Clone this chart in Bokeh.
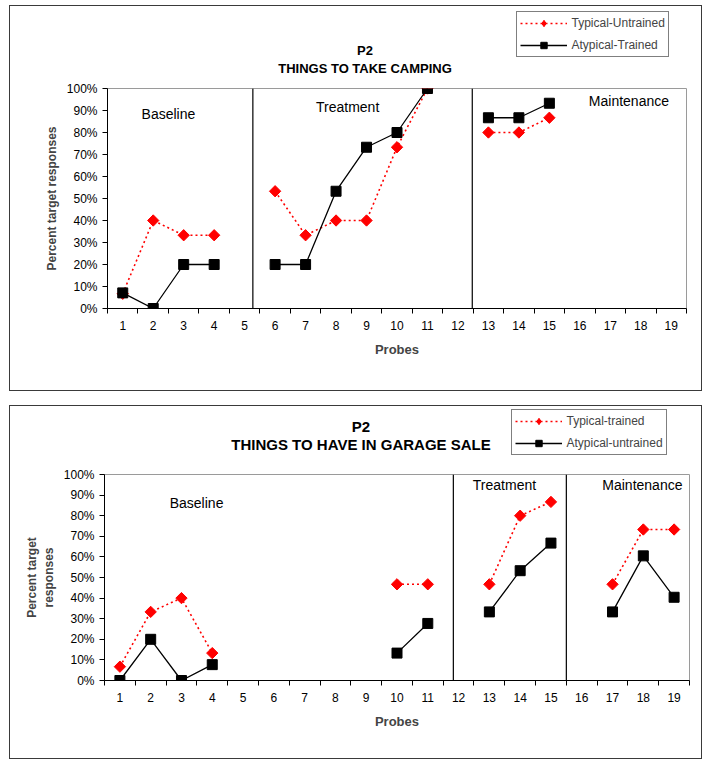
import numpy as np
from bokeh.plotting import figure
from bokeh.models import FixedTicker, Span, Label, Legend, LegendItem, Range1d
from bokeh.layouts import column
from bokeh.embed import file_html
from bokeh.resources import INLINE

nan = np.nan

# ---------------- data ----------------
probes = list(range(1, 20))
probe_labels = [str(i) for i in probes]
y_ticks = list(range(0, 101, 10))

# Chart 1: THINGS TO TAKE CAMPING
camp_title = ["P2", "THINGS TO TAKE CAMPING"]
camp_series_names = ["Typical-Untrained", "Atypical-Trained"]
camp_typical_untrained = [6.7, 40, 33.3, 33.3, nan, 53.3, 33.3, 40, 40, 73.3, 100, nan,
                          80, 80, 86.7, nan, nan, nan, nan]
camp_atypical_trained = [7.1, 0, 20, 20, nan, 20, 20, 53.3, 73.3, 80, 100, nan,
                         86.7, 86.7, 93.3, nan, nan, nan, nan]
camp_phase_breaks = [5.27, 12.47]
camp_phases = ["Baseline", "Treatment", "Maintenance"]

# Chart 2: THINGS TO HAVE IN GARAGE SALE
garage_title = ["P2", "THINGS TO HAVE IN GARAGE SALE"]
garage_series_names = ["Typical-trained", "Atypical-untrained"]
garage_typical_trained = [6.7, 33.3, 40, 13.3, nan, nan, nan, nan, nan, 46.7, 46.7, nan,
                          46.7, 80, 86.7, nan, 46.7, 73.3, 73.3]
garage_atypical_untrained = [0, 20, 0, 7.7, nan, nan, nan, nan, nan, 13.3, 27.7, nan,
                             33.3, 53.3, 66.7, nan, 33.3, 60.5, 40.4]
garage_phase_breaks = [11.83, 15.5]
garage_phases = ["Baseline", "Treatment", "Maintenance"]

FONT = "Liberation Sans"
BORDER = "1.5px solid #3a3a3a"
W = 693

RED = dict(line_color="red", line_dash="2 3", line_width=1.6)
RED_M = dict(marker="square", angle=np.pi / 4, size=8, fill_color="red", line_color="red")
RED_LEG_M = dict(marker="diamond", size=9, fill_color="red", line_color="red")
BLK = dict(line_color="black", line_width=1.3)
BLK_M = dict(marker="square", size=10, fill_color="black", line_color="black")


def make_header(height, mb, title_lines, title_pos, title_size, names, legend_loc):
    fw = W - mb[0] - mb[1]
    h = figure(width=W, height=height, output_backend="svg", toolbar_location=None,
               x_range=Range1d(0, fw), y_range=Range1d(height, 0),
               min_border_left=mb[0], min_border_right=mb[1],
               min_border_top=0, min_border_bottom=0,
               x_axis_type=None, y_axis_type=None,
               styles={"border-top": BORDER, "border-left": BORDER, "border-right": BORDER})
    h.grid.visible = False
    h.outline_line_color = None
    for txt, (tx, ty) in zip(title_lines, title_pos):
        h.add_layout(Label(x=tx, y=ty, text=txt, text_align="center", text_baseline="middle",
                           text_font=FONT, text_font_size=title_size, text_font_style="bold",
                           text_color="black"))
    # legend proxies (same styles as the plotted series; a single empty point each)
    lr = h.line([nan], [nan], **RED)
    sr = h.scatter([nan], [nan], **RED_LEG_M)
    lb = h.line([nan], [nan], **BLK)
    sb = h.scatter([nan], [nan], **BLK_M)
    legend = Legend(items=[LegendItem(label=names[0], renderers=[lr, sr]),
                           LegendItem(label=names[1], renderers=[lb, sb])],
                    location=legend_loc)
    legend.border_line_color = "black"
    legend.border_line_width = 1.2
    legend.background_fill_color = "white"
    legend.background_fill_alpha = 1
    legend.label_text_font = FONT
    legend.label_text_font_size = "12px"
    legend.glyph_width = 47
    legend.glyph_height = 16
    legend.label_height = 16
    legend.spacing = 6
    legend.padding = 3
    legend.margin = 0
    legend.label_standoff = 5
    h.add_layout(legend)
    return h


def make_chart(height, mb, red_vals, black_vals, breaks, phases, phase_pos, ylabel):
    p = figure(width=W, height=height, output_backend="svg", toolbar_location=None,
               x_range=Range1d(0.5, 19.5), y_range=Range1d(0, 100),
               min_border_left=mb[0], min_border_right=mb[1],
               min_border_top=mb[2], min_border_bottom=mb[3],
               styles={"border-bottom": BORDER, "border-left": BORDER, "border-right": BORDER})
    p.grid.visible = False
    p.outline_line_color = "#9a9a9a"
    p.outline_line_width = 1

    # x axis
    xa = p.xaxis[0]
    xa.ticker = FixedTicker(ticks=probes, minor_ticks=[x + 0.5 for x in [0] + probes])
    xa.major_label_overrides = {pr: lab for pr, lab in zip(probes, probe_labels)}
    xa.major_tick_in = 0
    xa.major_tick_out = 0
    xa.minor_tick_in = 0
    xa.minor_tick_out = 5
    xa.minor_tick_line_color = "black"
    xa.major_label_standoff = 7
    xa.major_label_text_font = FONT
    xa.major_label_text_font_size = "12px"
    xa.major_label_text_color = "black"
    xa.axis_line_color = "black"
    xa.axis_label = "Probes"
    xa.axis_label_text_font = FONT
    xa.axis_label_text_font_size = "13px"
    xa.axis_label_text_font_style = "bold"
    xa.axis_label_standoff = 9

    # y axis
    ya = p.yaxis[0]
    ya.ticker = FixedTicker(ticks=y_ticks)
    ya.major_label_overrides = {v: f"{v}%" for v in y_ticks}
    ya.major_tick_in = 0
    ya.major_tick_out = 5
    ya.minor_tick_line_color = None
    ya.major_tick_line_color = "black"
    ya.axis_line_color = "black"
    ya.major_label_standoff = 5
    ya.major_label_text_font = FONT
    ya.major_label_text_font_size = "12px"
    ya.major_label_text_color = "black"
    ya.axis_label = ylabel
    ya.axis_label_text_font = FONT
    ya.axis_label_text_font_size = "12px"
    ya.axis_label_text_font_style = "bold"
    ya.axis_label_standoff = 5

    # phase change lines
    for b in breaks:
        p.add_layout(Span(location=b, dimension="height", line_color="black", line_width=1.2))

    # series
    p.line(probes, red_vals, **RED)
    p.scatter(probes, red_vals, **RED_M)
    p.line(probes, black_vals, **BLK)
    p.scatter(probes, black_vals, **BLK_M)

    # phase labels
    for txt, (px, py) in zip(phases, phase_pos):
        p.add_layout(Label(x=px, y=py, text=txt, text_align="center", text_baseline="middle",
                           text_font=FONT, text_font_size="14px", text_color="black"))
    return p


MB1 = (97, 17)
MB2 = (94, 14)

h1 = make_header(72, MB1, camp_title, [(257.5, 43.5), (257.5, 61.5)], "13px",
                 camp_series_names, (408.5, 21.5))
p1 = make_chart(314, MB1 + (11, 83), camp_typical_untrained, camp_atypical_trained,
                camp_phase_breaks, camp_phases, [(2.5, 88.2), (8.38, 91.8), (17.61, 94.1)],
                "Percent target responses")

h2 = make_header(62, MB2, garage_title, [(256.5, 19.5), (256.5, 37.5)], "15px",
                 garage_series_names, (406.5, 13.5))
p2 = make_chart(292, MB2 + (7, 79), garage_typical_trained, garage_atypical_untrained,
                garage_phase_breaks, garage_phases, [(3.49, 86.4), (13.49, 95.1), (17.97, 95.1)],
                "Percent target\nresponses")

layout = column(column(h1, p1, spacing=0), column(h2, p2, spacing=0), spacing=14,
                styles={"margin-top": "5px", "margin-left": "9px"})
open("out.html", "w").write(file_html(layout, INLINE))
